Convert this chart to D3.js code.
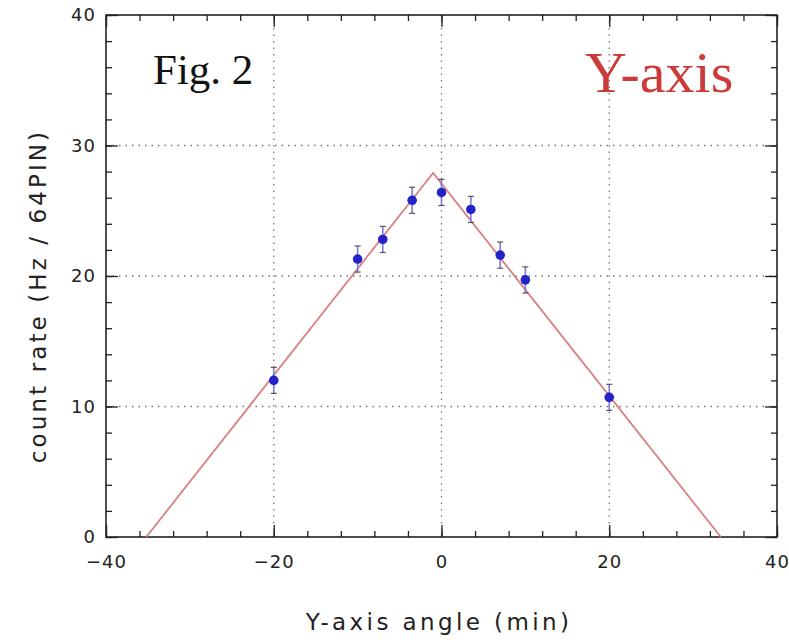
<!DOCTYPE html>
<html>
<head>
<meta charset="utf-8">
<script src="https://cdn.jsdelivr.net/npm/d3@7"></script>
<style>
  body { margin: 0; background: #fff; }
  .tick text { font-family: "DejaVu Sans", sans-serif; }
</style>
</head>
<body>
<script>
// data
const angles = [-20, -10, -7, -3.5, 0, 3.5, 7, 10, 20];
const rates = [12.0, 21.3, 22.8, 25.8, 26.4, 25.1, 21.6, 19.7, 10.7];
const errors = [1.0, 1.0, 1.0, 1.0, 1.0, 1.0, 1.0, 1.0, 1.0];
const fitX = [-35.2, -1.0, 33.3];
const fitY = [0, 27.9, 0];
const xTicks = [-40, -20, 0, 20, 40];
const yTicks = [0, 10, 20, 30, 40];
const xGrid = [-20, 0, 20];
const yGrid = [10, 20, 30];

const width = 789, height = 643;
const pLeft = 106, pRight = 777, pTop = 15, pBottom = 537;

const svg = d3.select("body").append("svg").attr("width", width).attr("height", height);

const x = d3.scaleLinear().domain([-40, 40]).range([pLeft, pRight]);
const y = d3.scaleLinear().domain([0, 40]).range([pBottom, pTop]);

// dotted grid
svg.selectAll("line.gx").data(xGrid).enter().append("line")
  .attr("x1", d => x(d)).attr("x2", d => x(d))
  .attr("y1", pTop).attr("y2", pBottom)
  .attr("stroke", "#777").attr("stroke-width", 1.3).attr("stroke-dasharray", "1.5,5");
svg.selectAll("line.gy").data(yGrid).enter().append("line")
  .attr("x1", pLeft).attr("x2", pRight)
  .attr("y1", d => y(d)).attr("y2", d => y(d))
  .attr("stroke", "#777").attr("stroke-width", 1.3).attr("stroke-dasharray", "1.5,5");

// ticks on all four sides, pointing inward
function tickAxis(axis, transform, vals, size) {
  const g = svg.append("g").attr("transform", transform)
    .call(axis.tickValues(vals).tickSize(size).tickFormat(""));
  g.select(".domain").remove();
  g.selectAll(".tick line").attr("stroke", "#222").attr("stroke-width", 1.3);
  return g;
}
const xMinor = d3.range(-40, 41, 4);
const yMinor = d3.range(0, 41, 2);
tickAxis(d3.axisTop(x), `translate(0,${pBottom})`, xMinor, 6);
tickAxis(d3.axisTop(x), `translate(0,${pBottom})`, xTicks, 12);
tickAxis(d3.axisBottom(x), `translate(0,${pTop})`, xMinor, 6);
tickAxis(d3.axisBottom(x), `translate(0,${pTop})`, xTicks, 12);
tickAxis(d3.axisRight(y), `translate(${pLeft},0)`, yMinor, 6);
tickAxis(d3.axisRight(y), `translate(${pLeft},0)`, yTicks, 12);
tickAxis(d3.axisLeft(y), `translate(${pRight},0)`, yMinor, 6);
tickAxis(d3.axisLeft(y), `translate(${pRight},0)`, yTicks, 12);

// tick labels
const xl = svg.append("g").attr("transform", `translate(0,${pBottom})`)
  .call(d3.axisBottom(x).tickValues(xTicks).tickSize(0).tickPadding(18)
    .tickFormat(d => d < 0 ? "\u2212" + Math.abs(d) : d));
xl.select(".domain").remove();
xl.selectAll("text").attr("font-size", 18).attr("fill", "#222").attr("letter-spacing", 1);

const yl = svg.append("g").attr("transform", `translate(${pLeft},0)`)
  .call(d3.axisLeft(y).tickValues(yTicks).tickSize(0).tickPadding(10));
yl.select(".domain").remove();
yl.selectAll("text").attr("font-size", 18).attr("fill", "#222").attr("letter-spacing", 1);

// frame
svg.append("rect").attr("x", pLeft).attr("y", pTop)
  .attr("width", pRight - pLeft).attr("height", pBottom - pTop)
  .attr("fill", "none").attr("stroke", "#222").attr("stroke-width", 1.6);

// fit line
const fit = fitX.map((d, i) => [d, fitY[i]]);
svg.append("path").datum(fit)
  .attr("d", d3.line().x(d => x(d[0])).y(d => y(d[1])))
  .attr("fill", "none").attr("stroke", "#d98080").attr("stroke-width", 1.8);

// error bars
const pts = angles.map((d, i) => ({ a: d, r: rates[i], e: errors[i] }));
svg.selectAll("line.err").data(pts).enter().append("line")
  .attr("x1", d => x(d.a)).attr("x2", d => x(d.a))
  .attr("y1", d => y(d.r - d.e)).attr("y2", d => y(d.r + d.e))
  .attr("stroke", "#7b7bd6").attr("stroke-width", 1.6);
svg.selectAll("line.capT").data(pts).enter().append("line")
  .attr("x1", d => x(d.a) - 3).attr("x2", d => x(d.a) + 3)
  .attr("y1", d => y(d.r + d.e)).attr("y2", d => y(d.r + d.e))
  .attr("stroke", "#555").attr("stroke-width", 1.2);
svg.selectAll("line.capB").data(pts).enter().append("line")
  .attr("x1", d => x(d.a) - 3).attr("x2", d => x(d.a) + 3)
  .attr("y1", d => y(d.r - d.e)).attr("y2", d => y(d.r - d.e))
  .attr("stroke", "#555").attr("stroke-width", 1.2);

// points
svg.selectAll("circle").data(pts).enter().append("circle")
  .attr("cx", d => x(d.a)).attr("cy", d => y(d.r)).attr("r", 4.8)
  .attr("fill", "#2323c8");

// labels inside plot
svg.append("text").attr("x", 153).attr("y", 84)
  .attr("font-family", "Liberation Serif, serif").attr("font-size", 43)
  .attr("fill", "#111").text("Fig. 2");
svg.append("text").attr("x", 585).attr("y", 92)
  .attr("font-family", "Liberation Serif, serif").attr("font-size", 58)
  .attr("fill", "#cc3a3a").text("Y-axis");

// axis titles
svg.append("text").attr("x", 439).attr("y", 630).attr("text-anchor", "middle")
  .attr("font-family", "DejaVu Sans, sans-serif").attr("font-size", 23)
  .attr("letter-spacing", 3.4).attr("fill", "#222").text("Y-axis angle (min)");
svg.append("text").attr("transform", "translate(46,296) rotate(-90)")
  .attr("text-anchor", "middle")
  .attr("font-family", "DejaVu Sans, sans-serif").attr("font-size", 23)
  .attr("letter-spacing", 3.1).attr("fill", "#222").text("count rate (Hz / 64PIN)");
</script>
</body>
</html>
